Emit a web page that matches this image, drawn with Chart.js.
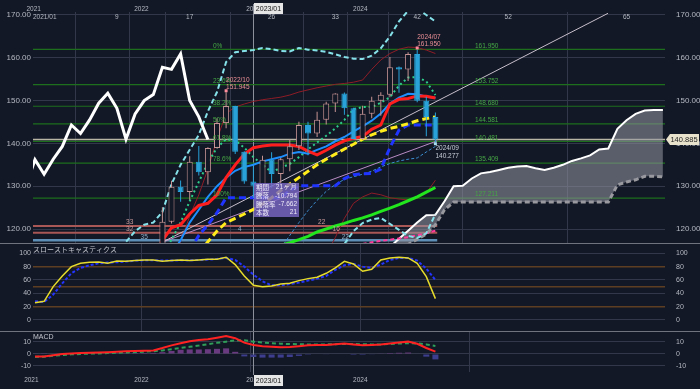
<!DOCTYPE html>
<html><head><meta charset="utf-8">
<script src="https://cdn.jsdelivr.net/npm/chart.js@4.4.1/dist/chart.umd.min.js"></script>
<style>
html,body{margin:0;padding:0;background:#131826;overflow:hidden}
#wrap{position:relative;width:700px;height:389px;background:#131826}
canvas{position:absolute;left:0}
</style></head><body>
<div id="wrap">
<canvas id="main" width="700" height="244" style="top:0"></canvas>
<canvas id="stoch" width="700" height="87" style="top:244px"></canvas>
<canvas id="macd" width="700" height="58" style="top:331px"></canvas>
</div>
<script>
// monthly bars, index 0 = 2021/01 ... 44 = 2024/09
const OPEN=[103.25,104.68,106.58,110.72,109.31,109.58,111.10,109.71,110.02,111.29,113.96,113.17,115.08,115.12,115.00,121.70,129.87,128.67,135.72,133.27,138.95,144.74,148.71,138.07,131.12,130.09,136.20,132.83,136.29,139.33,144.31,142.29,145.54,149.35,151.68,148.21,141.00,146.92,149.98,151.35,157.78,157.25,160.88,149.98,146.18];
const HIGH=[104.94,106.69,110.97,110.96,110.20,111.11,111.66,110.80,112.08,114.70,115.52,115.20,116.35,116.34,125.09,131.25,131.35,137.00,139.39,139.08,145.90,151.945,148.82,138.18,134.78,137.10,137.91,136.56,140.93,145.07,145.07,147.37,149.71,151.72,151.91,148.32,148.81,150.89,151.97,160.21,157.99,161.28,161.95,150.89,147.21];
const LOW=[102.59,104.41,106.37,107.48,108.34,109.19,109.06,108.72,109.11,110.82,112.53,112.55,113.47,114.15,114.65,121.28,126.36,126.86,132.50,130.40,138.79,143.53,137.50,130.58,127.22,128.08,129.64,130.63,133.50,138.43,137.24,141.51,144.44,147.31,146.68,140.95,140.81,145.90,146.48,150.81,151.86,154.55,149.62,141.68,140.277];
const CLOSE=[104.68,106.58,110.72,109.31,109.58,111.10,109.71,110.02,111.29,113.96,113.17,115.08,115.12,115.00,121.70,129.87,128.67,135.72,133.27,138.95,144.74,148.71,138.07,131.12,130.09,136.20,132.83,136.29,139.33,144.31,142.29,145.54,149.35,151.68,148.21,141.00,146.92,149.98,151.35,157.78,157.25,160.88,149.98,146.18,140.885];

// indicator lines, each with the bar index of its first value
const CHIKOU_START=-1, CHIKOU=[130.1,136.2,132.8,136.3,139.3,144.3,142.3,145.5,149.4,151.7,148.2,141.0,146.9,150.0,151.4,157.8,157.3,160.9,150.0,146.2,140.9];
const RED_START=13, RED_MA=[113,117.3,120.3,121,123.5,125.5,126,128,132,135,137.5,139,139.4,139.6,139.6,139.6,139.3,138.2,137.3,138.4,139.6,140.6,141.2,141.6,143.3,144.3,149.2,150.3,150.5,151.1,151,150.6];
const BLUE_START=15, BLUE_MA=[114,117.4,121.5,124.5,127.5,130,132,133.6,134.5,135,135.8,136.3,136.8,137.6,138,137.6,138.5,139.3,140.5,141.5,142.8,144,145.3,147,149.3,150.7,151.6,151.5,150.9,150.6];
const YEL_START=18, YEL_MA=[114.5,117,119.5,121.5,122.5,123.5,124.6,125.8,127.3,129,130.5,132,133.5,135,136.3,137.5,138.7,139.8,141,142,142.8,143.5,144,144.6,145.3,145.8,146.2];
const KIJUN_START=17, KIJUN=[115,118.5,121,123.8,127.3,127.3,127.3,127.3,127.3,127.3,127.3,129,130.1,130.1,130.1,130.1,130.1,131.8,132.7,132.9,133,134,139,143.1,144.3,144.3,144.3,144.3];
const GREEN_START=27, GREEN_MA=[116.2,116.8,117.5,118.3,119.3,120,120.7,121.3,122,122.6,123.3,124.1,124.9,125.7,126.6,127.5,128.6,129.7];
const BB1U_START=15, BB1_UP=[112,117,123,128,134,141,147,148.5,149.2,149.8,150.2,150.5,150.8,151.3,152,152.5,153,153.4,153.8,154,154.3,154.8,157.3,159.5,161,162,162.5,162.4,161.8,161];
const BB1L_START=32, BB1_LO=[114,118,122.5,126,127.5,128.4,128,127.3,127,126.8,127.2,128.4,131.4];
const BB2U_START=9, BB2_UP=[114,117,119.5,121,121.5,124,130.5,135,138.5,142,147.5,152,159,161.3,161.6,161.8,162.3,162,161.6,161.5,162.3,161.9,161.7,161.4,160.8,160.2,159.8,159.7,160.5,162.2,165,168.5,171,171.5,170,168.5];
const BB2L_START=33, BB2_LO=[113.5,116.5,119.5,121.4,122.2,122.6,121.2,119.8,118.4,117.9,119,123.5];
const TENKAN_START=14, TENKAN=[114,117.5,121.5,126.5,131,135.5,139,141,140.7,139,136.8,135,133.3,134.3,135.2,136.8,138.6,140.2,141.8,143.5,145.5,148,148.5,148.5,149.5,150.8,153.5,155.4,155.5,154.5,151.3];
const STEEL_START=27, STEEL=[115.5,118.5,121.5,124.3,126.7,128.8,130.4,131.6,132.2,132.8,133.5,134.5,135.3,135.9,136.3,136.6,138,139.3];
const PINK_START=36, PINK=[116.5,116.9,117.2,117.5,117.8,118.1,118.5,119,119.6];
const SPAN_START=38;
const SPAN_A=[113,115.8,117.7,119.6,121.5,123.2,123.3,126.5,130,130.1,131.8,133,133.3,133.8,134.3,134.6,134.7,134.2,133.8,134.3,135,135.9,136.5,137.2,138.6,138.8,143.4,145.4,146.9,147.7,147.8,147.8];
const SPAN_B=[112,114,115.2,116.4,117.6,118.8,121,124.5,126.3,126.3,126.3,126.3,126.3,126.3,126.3,126.3,126.3,126.3,126.3,126.3,126.3,126.3,126.3,126.3,126.3,126.3,130.3,131,131.5,132.3,132.3,132.2];
const TREND_A_X=[14.07,62.97], TREND_A_Y=[117,170.4];
const TREND_B_X=[14.1,44.2], TREND_B_Y=[117,140.6];

const FIB_LEVELS=[161.950,153.752,148.680,144.581,140.481,135.409,127.211];
const FIB_PCT=['0%','23.6%','38.2%','50%','61.8%','78.6%','100%'];
const PRICE_NOW=140.885;
const BAND_RED=[120.7,119.1], BAND_STEEL=117.4;
const BAND_LABELS=[['33',10.4,121.5,'#c99a9a'],['32',10.4,119.9,'#c99a9a'],['35',12,118.1,'#8fb0c8'],['4',22.5,119.9,'#8fb0c8'],['22',31.5,121.5,'#c99a9a'],['16',33.1,119.9,'#c99a9a'],['22',34.1,118.1,'#8fb0c8']];
const INFO_ROWS=[['期間','21ヶ月'],['騰落','-10.794'],['騰落率','-7.662'],['本数','21']];

// oscillators, index 0..44
const STOCH_K=[26,28,50,66,80,85,86.5,87,85,88.5,88,89,90,90,88,89,90,89,90,91,91,94,83,66,52,50,51,54,55,59,62,64,70,78,88,84,73,76,90,93,94,93,85,65,32];
const STOCH_D=[28,27,38,55,70,78,82,85,86,86.5,87.5,89,89.5,89.5,89,89,89.5,89.5,90,90.5,91.5,93,90,80,68,58,52,52,54,56,59,62,66,75,82,84,80,78,83,90,93,93,89,77,60];
const MACD=[-2,-2,-1,0,0.5,0.8,1,1.2,1.5,1.8,2.2,2.5,2.7,3,5,7.2,9,10.7,11.6,12.3,13.6,15,13.2,9.5,7.5,6.5,6,5.6,5.8,6.5,7.3,7.5,7.5,8.2,8.8,8,7.3,7.6,8,8.8,9.5,10.3,8.5,5,2];
const SIGNAL=[-2.5,-2.2,-1.5,-0.8,-0.3,0,0.3,0.5,0.8,1,1.3,1.6,1.9,2.3,3,4,5,6,7,8.2,9.3,10.3,11.3,11.5,10.3,9.5,9,8.6,8.3,8.1,8,7.9,8,8.2,8.4,8.3,8.1,8,8,8.3,8.7,9,8.8,8,6.7];
const HIST=[0.3,0.2,0.4,0.5,0.5,0.6,0.5,0.5,0.5,0.6,0.7,0.8,0.8,0.9,1.5,2.5,3.5,3.8,3.8,4,4.3,4.7,1.8,-2,-2.5,-3,-3,-3,-2.5,-1.6,-0.7,-0.4,-0.5,0,0.4,-0.8,-0.8,-0.3,0.3,0.8,1,1.2,-0.4,-2.2,-4.5];

// axis ticks / grid positions (bar index)
const PRICE_TICKS=[120,130,140,150,160,170];
const STOCH_TICKS=[0,20,40,60,80,100];
const MACD_TICKS=[-10,0,10];
const MAIN_GRID_X=[0,9,11.7,17,26,33,35.75,42,52,65];
const SUB_GRID_X=[11.7,35.75];
const TOP_YEARS=[['2021',-0.15],['2022',11.7],['2023',24],['2024',35.75]];
const TOP_NUMS=[['2021/01',0],['9',9],['17',17],['26',26],['33',33],['42',42],['52',52],['65',65]];
const BOTTOM_YEARS=[['2021',-0.4],['2022',11.7],['2023',24],['2024',35.75]];
const CURSOR=24;

const BG='#131826', GRID='#323849', TXT='#b4b9c3', BROWN='#5e3e22';
const FONT='"Liberation Sans", Arial, sans-serif', JFONT='"Noto Sans CJK JP", sans-serif';
const UP='#c69494', DN='#28a2d8';
const X_MIN=-0.22, X_MAX=69.23;

const pts=(start,vals)=>vals.map((v,i)=>({x:start+i,y:v}));
const pairs=(xs,ys)=>xs.map((x,i)=>({x,y:ys[i]}));
const line=(data,color,width,dash,order,extra)=>Object.assign({type:'line',data,borderColor:color,borderWidth:width,borderDash:dash||[],pointRadius:0,tension:0,fill:false,order},extra||{});
const hline=(v,color,width,x0,x1,order)=>line([{x:x0,y:v},{x:x1,y:v}],color,width,[],order);

function xScale(grid){
  return {type:'linear',min:X_MIN,max:X_MAX,offset:false,
    afterBuildTicks:s=>{s.ticks=grid.map(v=>({value:v}));},
    afterFit:s=>{s.height=0;s.paddingLeft=0;s.paddingRight=0;},
    ticks:{display:false},grid:{color:GRID,drawTicks:false},border:{display:false}};
}
function yScale(pos,min,max,ticks,fmt,w,size,grid){
  return {type:'linear',axis:'y',position:pos,min,max,
    afterBuildTicks:s=>{s.ticks=ticks.map(v=>({value:v}));},
    afterFit:s=>{s.width=w;s.paddingTop=0;s.paddingBottom=0;},
    ticks:{color:TXT,font:{family:FONT,size},padding:pos==='left'?2:3,callback:fmt},
    grid:grid||{display:false},border:{display:false}};
}
function text(ctx,s,x,y,col,font,align){ctx.font=font;ctx.fillStyle=col;ctx.textAlign=align||'left';ctx.textBaseline='middle';ctx.fillText(s,x,y);}
function cursorLine(c,y0,y1){
  const ctx=c.ctx,x=Math.round(c.scales.x.getPixelForValue(CURSOR))+0.5;
  ctx.save();ctx.strokeStyle='#8c909a';ctx.lineWidth=1;ctx.beginPath();ctx.moveTo(x,y0);ctx.lineTo(x,y1);ctx.stroke();ctx.restore();
}
function cursorBox(c,y){
  const ctx=c.ctx,x=Math.round(c.scales.x.getPixelForValue(CURSOR));
  ctx.fillStyle='#e6e6e6';ctx.fillRect(x+1,y,29,11);
  text(ctx,'2023/01',x+15.5,y+6,'#161616','7px '+FONT,'center');
}
function sep(ctx,y){ctx.strokeStyle='#6e737e';ctx.lineWidth=1;ctx.beginPath();ctx.moveTo(0,y);ctx.lineTo(700,y);ctx.stroke();}

const IDX=OPEN.map((_,i)=>i);
const bull=i=>CLOSE[i]>=OPEN[i];
const XR=X_MAX+1;

const mainDeco={id:'mainDeco',
  beforeDatasetsDraw(c){cursorLine(c,4,c.chartArea.bottom);},
  afterDraw(c){
    const ctx=c.ctx,a=c.chartArea,X=i=>c.scales.x.getPixelForValue(i),Y=v=>c.scales.y.getPixelForValue(v);
    ctx.save();
    TOP_YEARS.forEach(([s,i])=>text(ctx,s,X(i),9,TXT,'6.5px '+FONT,'center'));
    TOP_NUMS.forEach(([s,i])=>i===0?text(ctx,s,X(i)-2,17,TXT,'6.5px '+FONT,'left'):text(ctx,s,X(i),17,TXT,'6.5px '+FONT,'center'));
    cursorBox(c,3);
    FIB_LEVELS.forEach((v,k)=>{const y=Y(v)-3.5;
      text(ctx,FIB_PCT[k],X(19.55),y,'#45a845','6.5px '+FONT);
      text(ctx,v.toFixed(3),X(48.35),y,'#45a845','6.5px '+FONT);});
    BAND_LABELS.forEach(([s,i,v,col])=>text(ctx,s,X(i),Y(v),col,'6.5px '+FONT,'center'));
    // high / low annotations
    [[21,151.945,'2022/10','#ea8f96','#ff8d9c',-1],[42,161.95,'2024/07','#ea8f96','#ff8d9c',-1],[44,140.277,'2024/09','#c6ced8','#a6def0',1]].forEach(([i,v,d,tc,mc,dir])=>{
      const x=X(i),y=Y(v);ctx.fillStyle=mc;ctx.fillRect(x-1.5,y-1.5+dir*1.5,3,3);
      if(dir<0){text(ctx,d,x,y-12.5,tc,'6.5px '+FONT);text(ctx,v.toFixed(3),x,y-5.5,tc,'6.5px '+FONT);}
      else{text(ctx,d,x,y+6,tc,'6.5px '+FONT);text(ctx,v.toFixed(3),x,y+13.5,tc,'6.5px '+FONT);}
    });
    // measuring box
    const bx=Math.round(X(CURSOR))+1,by=Math.round(Y(130.8));
    ctx.fillStyle='rgba(122,104,196,0.82)';ctx.fillRect(bx,by,45,34);
    INFO_ROWS.forEach(([k,v],j)=>{const y=by+4.5+j*8.3;
      text(ctx,k,bx+2,y,'#eeeaf8','6.5px '+JFONT);text(ctx,v,bx+43,y,'#eeeaf8','6.5px '+FONT,'right');});
    // last price tag
    const py=Y(PRICE_NOW);
    ctx.fillStyle='#e8e2cc';ctx.beginPath();ctx.moveTo(a.right+1,py);ctx.lineTo(a.right+5,py-5.5);ctx.lineTo(699,py-5.5);ctx.lineTo(699,py+5.5);ctx.lineTo(a.right+5,py+5.5);ctx.closePath();ctx.fill();
    text(ctx,PRICE_NOW.toFixed(3),684,py+0.5,'#1e1e1e','7.5px '+FONT,'center');
    sep(ctx,243.5);
    ctx.restore();
  }
};

new Chart(document.getElementById('main'),{
  type:'line',
  data:{datasets:[
    {type:'bar',data:IDX.map(i=>({x:i,y:[OPEN[i],CLOSE[i]]})),backgroundColor:IDX.map(i=>bull(i)?BG:DN),borderColor:IDX.map(i=>bull(i)?UP:DN),borderWidth:1,borderSkipped:false,barThickness:6,grouped:false,inflateAmount:0,order:0},
    {type:'bar',data:IDX.map(i=>({x:i,y:[LOW[i],HIGH[i]]})),backgroundColor:IDX.map(i=>bull(i)?UP:DN),borderWidth:0,barThickness:1,grouped:false,inflateAmount:0,order:1},
    line(pts(CHIKOU_START,CHIKOU),'#ffffff',3,[],2),
    line(pts(RED_START,RED_MA),'#ff1e1e',3,[],3),
    line(pts(BLUE_START,BLUE_MA),'#1e8fff',2,[],4),
    line(pts(YEL_START,YEL_MA),'#ffec1a',3,[7,4],5),
    line(pts(KIJUN_START,KIJUN),'#1f35ff',3,[7,4],6),
    line(pts(GREEN_START,GREEN_MA),'#22e61e',3,[],7),
    line(pts(TENKAN_START,TENKAN),'#2ecf8c',2,[2,3],8),
    line(pts(BB2U_START,BB2_UP),'#86e2ea',2,[5,3],9),
    line(pts(BB2L_START,BB2_LO),'#86e2ea',2,[5,3],10),
    line(pts(BB1U_START,BB1_UP),'#8e1d27',1,[],11),
    line(pts(BB1L_START,BB1_LO),'#8e1d27',1,[],12),
    line(pts(STEEL_START,STEEL),'#3b8fd2',1,[3,2],13),
    line(pts(PINK_START,PINK),'#ff3a9c',2,[4,3],14),
    line(pairs(TREND_A_X,TREND_A_Y),'#c8bfcc',1,[],15),
    line(pairs(TREND_B_X,TREND_B_Y),'#b98cc4',1,[],16),
    line(pts(SPAN_START,SPAN_A),'#ffffff',2,[],17,{fill:'+1',backgroundColor:'rgba(150,152,162,0.55)'}),
    line(pts(SPAN_START,SPAN_B),'#9a9a9e',3,[5,3],18),
    hline(PRICE_NOW,'#b9b5a4',1.5,X_MIN-1,XR,19),
    ...FIB_LEVELS.map(v=>hline(v,'#1d6e1d',1.2,X_MIN-1,XR,20)),
    ...BAND_RED.map(v=>hline(v,'#a85656',2,X_MIN-1,44.2,21)),
    hline(BAND_STEEL,'#5d8fb6',2.5,X_MIN-1,44.2,21)
  ]},
  options:{responsive:false,animation:false,devicePixelRatio:1,
    layout:{padding:{top:12,bottom:1,left:0,right:0}},
    plugins:{legend:{display:false},tooltip:{enabled:false}},
    scales:{
      x:xScale(MAIN_GRID_X),
      y:yScale('left',116.73,170.7,PRICE_TICKS,v=>v.toFixed(2),33,8,{color:GRID,drawTicks:false}),
      yR:yScale('right',116.73,170.7,PRICE_TICKS,v=>v.toFixed(2),35,8)
    }},
  plugins:[mainDeco]
});

new Chart(document.getElementById('stoch'),{
  type:'line',
  data:{datasets:[
    line(pts(0,STOCH_K),'#e6dc2c',1.5,[],0),
    line(pts(0,STOCH_D),'#2434ff',2,[3,2],1),
    hline(50,BROWN,1.5,X_MIN-1,XR,2)
  ]},
  options:{responsive:false,animation:false,devicePixelRatio:1,
    layout:{padding:0},
    plugins:{legend:{display:false},tooltip:{enabled:false}},
    scales:{
      x:xScale(SUB_GRID_X),
      y:yScale('left',-16.5,113.9,STOCH_TICKS,v=>String(v),33,7,{color:ctx=>(ctx.tick.value===20||ctx.tick.value===80)?BROWN:GRID,lineWidth:ctx=>(ctx.tick.value===20||ctx.tick.value===80)?1.5:1,drawTicks:false}),
      yR:yScale('right',-16.5,113.9,STOCH_TICKS,v=>String(v),35,7)
    }},
  plugins:[{id:'stochDeco',
    beforeDatasetsDraw(c){cursorLine(c,0,87);},
    afterDraw(c){text(c.ctx,'スローストキャスティクス',33,5.5,'#c2c6ce','7px '+JFONT);}
  }]
});

new Chart(document.getElementById('macd'),{
  type:'line',
  data:{datasets:[
    line(pts(0,MACD),'#ff2222',2,[],0),
    line(pts(0,SIGNAL),'#2e9e58',2,[4,3],1),
    {type:'bar',data:pts(0,HIST),backgroundColor:HIST.map(v=>v>=0?'#6a3a80':'#3e3e8e'),barThickness:6,grouped:false,inflateAmount:0,order:2}
  ]},
  options:{responsive:false,animation:false,devicePixelRatio:1,
    layout:{padding:{top:1,bottom:17,left:0,right:0}},
    plugins:{legend:{display:false},tooltip:{enabled:false}},
    scales:{
      x:xScale(SUB_GRID_X),
      y:yScale('left',-15,18.33,MACD_TICKS,v=>String(v),33,7,{color:GRID,drawTicks:false}),
      yR:yScale('right',-15,18.33,MACD_TICKS,v=>String(v),35,7)
    }},
  plugins:[{id:'macdDeco',
    beforeDatasetsDraw(c){cursorLine(c,0,44);},
    afterDraw(c){
      const ctx=c.ctx,X=i=>c.scales.x.getPixelForValue(i);
      text(ctx,'MACD',33,6,'#c2c6ce','7px '+FONT);
      BOTTOM_YEARS.forEach(([s,i])=>text(ctx,s,X(i),49.5,TXT,'6.5px '+FONT,'center'));
      cursorBox(c,44);
      sep(ctx,0.5);
    }
  }]
});
</script></body></html>
